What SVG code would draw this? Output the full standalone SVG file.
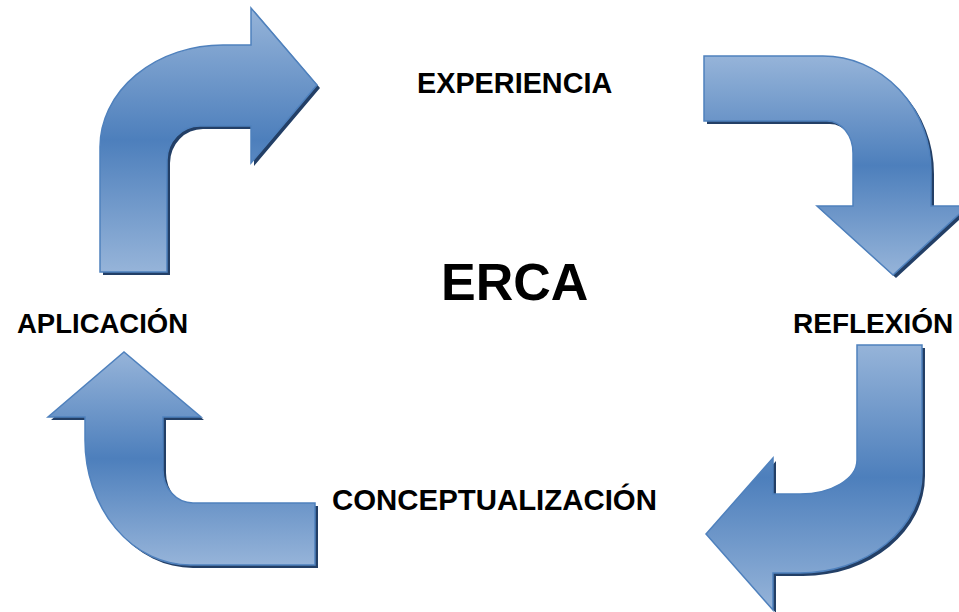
<svg xmlns="http://www.w3.org/2000/svg" width="959" height="612" viewBox="0 0 959 612">
<defs>
<linearGradient id="g" x1="0" y1="0" x2="0" y2="1">
<stop offset="0" stop-color="#96b4d9"/>
<stop offset="0.5" stop-color="#4d7fbc"/>
<stop offset="1" stop-color="#96b4d9"/>
</linearGradient>
</defs>
<style>
.sh{fill:#233f66;stroke:none}
.ar{fill:url(#g);stroke:#4f81bd;stroke-width:1.5;stroke-linejoin:miter}
text{font-family:"Liberation Sans",Arial,sans-serif;font-weight:bold;fill:#000}
</style>
<rect width="959" height="612" fill="#fff"/>
<g id="arrow-aplicacion-experiencia">
<path class="sh" transform="translate(3,3)" d="M100,272 L100,147 A123,102 0 0 1 223,45 L251,45 L251,8 L317,85 L251,163 L251,126 L200,126 A33,34 0 0 0 167,160 L167,272 Z"/>
<path class="ar" d="M100,272 L100,147 A123,102 0 0 1 223,45 L251,45 L251,8 L317,85 L251,163 L251,126 L200,126 A33,34 0 0 0 167,160 L167,272 Z"/>
</g>
<g id="arrow-experiencia-reflexion">
<path class="sh" transform="translate(3,3)" d="M704,56 L823,56 A108,115 0 0 1 931,171 L931,206 L968,206 L893,275 L817,206 L853,206 L853,153 A26,32 0 0 0 827,121 L704,121 Z"/>
<path class="ar" d="M704,56 L823,56 A108,115 0 0 1 931,171 L931,206 L968,206 L893,275 L817,206 L853,206 L853,153 A26,32 0 0 0 827,121 L704,121 Z"/>
</g>
<g id="arrow-reflexion-conceptualizacion">
<path class="sh" transform="translate(3,3)" d="M857,345 L922,345 L922,473 A122,100 0 0 1 800,573 L773,573 L773,610 L706,534 L773,458 L773,494 L800,494 A57,34 0 0 0 857,460 Z"/>
<path class="ar" d="M857,345 L922,345 L922,473 A122,100 0 0 1 800,573 L773,573 L773,610 L706,534 L773,458 L773,494 L800,494 A57,34 0 0 0 857,460 Z"/>
</g>
<g id="arrow-conceptualizacion-aplicacion">
<path class="sh" transform="translate(3,3)" d="M315,503 L315,565 L190,565 A105,125 0 0 1 85,440 L85,417 L48,417 L124,352 L201,417 L163,417 L163,470 A30,33 0 0 0 193,503 Z"/>
<path class="ar" d="M315,503 L315,565 L190,565 A105,125 0 0 1 85,440 L85,417 L48,417 L124,352 L201,417 L163,417 L163,470 A30,33 0 0 0 193,503 Z"/>
</g>
<g id="experiencia"><text x="417" y="93" font-size="28.8">EXPERIENCIA</text></g>
<g id="erca"><text x="441" y="300" font-size="52">ERCA</text></g>
<g id="aplicacion"><text x="17" y="333" font-size="27.5">APLICACIÓN</text></g>
<g id="reflexion"><text x="793" y="333" font-size="28">REFLEXIÓN</text></g>
<g id="conceptualizacion"><text x="332" y="510" font-size="29.4">CONCEPTUALIZACIÓN</text></g>
</svg>
